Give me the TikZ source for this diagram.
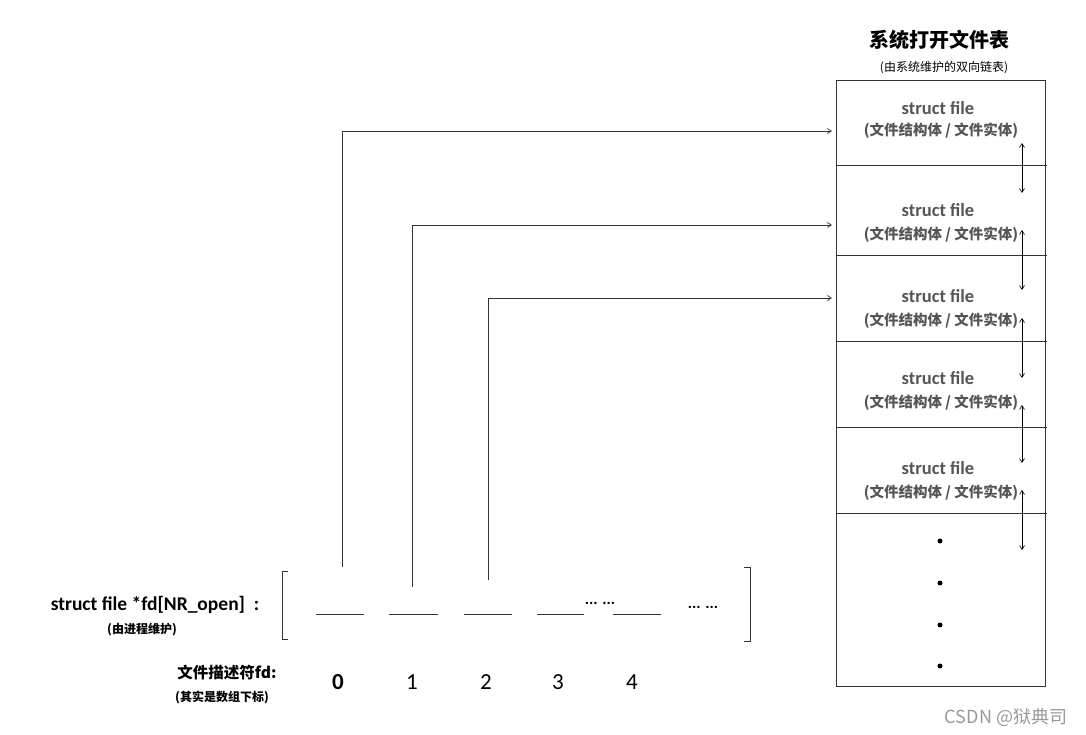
\documentclass[tikz,border=0pt]{standalone}
\usepackage{fontspec}
\setmainfont{Carlito}
\newfontfamily\cjk{Noto Sans CJK SC}
\usetikzlibrary{arrows.meta}
\definecolor{tgray}{HTML}{555555}
\begin{document}
\begin{tikzpicture}[x=1pt,y=-1pt,
  ln/.style={draw=black!80,line width=0.7pt},
  arr/.style={ln,-{Straight Barb[length=4pt,width=5pt]}},
  darr/.style={line width=0.6pt,{Straight Barb[length=4pt,width=5pt]}-{Straight Barb[length=4pt,width=5pt]}},
  ctitle/.style={font=\bfseries\fontsize{18.5}{20}\selectfont,text=tgray},
  csub/.style={font=\cjk\bfseries\fontsize{14.5}{16}\selectfont,text=tgray},
  slot/.style={ln},
  num/.style={font=\fontsize{23}{25}\selectfont}]
\useasboundingbox (0,0) rectangle (1086,735);
% table
\node[draw=black!80,line width=0.8pt,minimum width=209pt,minimum height=606pt,anchor=north west,inner sep=0] (tab) at (836,80) {};
\foreach \y in {165,255,341,427,513}{\draw[ln] (836,\y) -- (1047,\y);}
\node[font=\cjk\bfseries\fontsize{20}{22}\selectfont] (title) at (939,40) {系统打开文件表};
\node[font=\cjk\fontsize{12}{14}\selectfont] (sub) at (944,68) {(由系统维护的双向链表)};
\foreach \a/\b/\n in {108/131/1,210/235/2,296/321/3,378/403/4,468/493/5}{
  \node[ctitle] (t\n) at (938,\a) {struct file};
  \node[csub] (s\n) at (941,\b) {(文件结构体 / 文件实体)};
}
\foreach \y/\n in {541/1,583/2,625/3,666/4}{\node[circle,fill=black,inner sep=0,minimum size=5pt] (d\n) at (940,\y) {};}
\foreach \a/\b/\n in {143/193/1,230/290/2,318/378/3,405/463/4,490/550/5}{
  \coordinate (ua\n) at (1022,\a); \coordinate (ub\n) at (1022,\b);
  \draw[darr] (ua\n) -- (ub\n);}
% brackets
\draw[ln] (288,571) -- (282,571) -- (282,639) -- (288,639);
\draw[ln] (744,567) -- (750,567) -- (750,641) -- (744,641);
% slots
\foreach \a/\b/\n in {316/364/0,389/438/1,464/512/2,537/584/3,613/661/4}{
  \coordinate (sl\n) at (\a,614); \coordinate (sr\n) at (\b,614);
  \draw[slot] (sl\n) -- (sr\n);}
\node[font=\bfseries\fontsize{16}{16}\selectfont] (e1) at (600,603) {... ...};
\node[font=\bfseries\fontsize{16}{16}\selectfont] (e2) at (703,607) {... ...};
% connectors
\coordinate (p0) at (342,567); \coordinate (q0) at (832,131);
\coordinate (p1) at (412,587); \coordinate (q1) at (832,225);
\coordinate (p2) at (488,580); \coordinate (q2) at (832,298);
\draw[arr] (p0) |- (q0);
\draw[arr] (p1) |- (q1);
\draw[arr] (p2) |- (q2);
% labels
\node[font=\bfseries\fontsize{19.5}{21}\selectfont] (lab) at (155,605) {struct file *fd[NR\_open]\ \ :};
\node[font=\cjk\bfseries\fontsize{12}{14}\selectfont] (lab2) at (142,630) {(由进程维护)};
\node[font=\cjk\bfseries\fontsize{15.5}{17}\selectfont] (fd) at (227,673) {文件描述符fd:};
\node[font=\cjk\bfseries\fontsize{12}{14}\selectfont] (fd2) at (222,697) {(其实是数组下标)};
\node[font=\bfseries\fontsize{23}{25}\selectfont] (n0) at (338,682) {0};
\node[num] (n1) at (412,682) {1};
\node[num] (n2) at (486,682) {2};
\node[num] (n3) at (558,682) {3};
\node[num] (n4) at (632,682) {4};
\node[font=\cjk\fontsize{18}{20}\selectfont,text=black!40] (wm) at (1006,717) {CSDN @狱典司};
\end{tikzpicture}
\end{document}
